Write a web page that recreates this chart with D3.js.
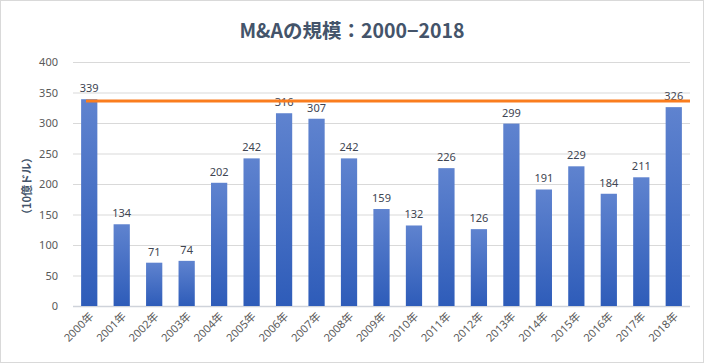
<!DOCTYPE html>
<html><head><meta charset="utf-8">
<script src="https://cdn.jsdelivr.net/npm/d3@7"></script>
<style>body{margin:0;background:#fff}svg{display:block}</style>
</head><body>
<script>
const categories = ["2000年","2001年","2002年","2003年","2004年","2005年","2006年","2007年","2008年","2009年","2010年","2011年","2012年","2013年","2014年","2015年","2016年","2017年","2018年"];
const values = [339,134,71,74,202,242,316,307,242,159,132,226,126,299,191,229,184,211,326];
const refLineValue = 336;
const yTicks = [0,50,100,150,200,250,300,350,400];
const titleText = "M&Aの規模：2000−2018";
const yTitle = "（10億ドル）";

const W = 704, H = 363;
const m = {left:73, right:14, top:62, bottom:57};
const svg = d3.select("body").append("svg").attr("width",W).attr("height",H);
svg.append("rect").attr("x",0.5).attr("y",0.5).attr("width",W-1).attr("height",H-1)
  .attr("fill","#fff").attr("stroke","#d9d9d9");

const defs = svg.append("defs");
const g1 = defs.append("linearGradient").attr("id","barGrad").attr("x1",0).attr("y1",0).attr("x2",0).attr("y2",1);
g1.append("stop").attr("offset","0%").attr("stop-color","#5f83cf");
g1.append("stop").attr("offset","100%").attr("stop-color","#2e5cb9");

const x = d3.scaleBand().domain(categories).range([m.left, W-m.right]).paddingInner(0.5).paddingOuter(0.25);
const y = d3.scaleLinear().domain([0,400]).range([H-m.bottom, m.top]);

const font = "'Noto Sans','Noto Sans CJK JP',sans-serif";

svg.append("text").attr("x",352).attr("y",38).attr("text-anchor","middle")
  .attr("font-family","'Noto Sans CJK JP','Noto Sans',sans-serif").attr("font-weight","bold")
  .attr("font-size",19.5).attr("fill","#44546a").text(titleText);

// grid
const gy = svg.append("g").attr("transform",`translate(${m.left},0)`)
  .call(d3.axisLeft(y).tickValues(yTicks).tickSize(-(W-m.left-m.right)).tickPadding(15));
gy.select(".domain").remove();
gy.selectAll(".tick line").attr("stroke",d=>d===0?"#cfd3da":"#d9d9d9").attr("stroke-width",d=>d===0?1.5:1);
gy.selectAll(".tick text").attr("font-family",font).attr("font-size",11).attr("fill","#595959");

svg.append("text").attr("transform",`translate(31,186) rotate(-90)`)
  .attr("text-anchor","middle").attr("font-family","'Noto Sans CJK JP',sans-serif")
  .attr("font-size",11).attr("font-weight","bold").attr("fill","#44546a").text(yTitle);

// bars
svg.append("g").selectAll("rect").data(values).join("rect")
  .attr("x",(d,i)=>x(categories[i])).attr("width",x.bandwidth())
  .attr("y",d=>y(d)).attr("height",d=>y(0)-y(d)).attr("fill","url(#barGrad)");

// labels
svg.append("g").selectAll("text").data(values).join("text")
  .attr("x",(d,i)=>x(categories[i])+x.bandwidth()/2).attr("y",d=>y(d)-7)
  .attr("text-anchor","middle").attr("font-family",font).attr("font-size",11)
  .attr("fill","#404552").text(d=>d);

// x axis labels
const gx = svg.append("g").attr("transform",`translate(0,${y(0)})`)
  .call(d3.axisBottom(x).tickSize(0).tickPadding(0));
gx.select(".domain").remove();
gx.selectAll(".tick text").attr("font-family",font).attr("font-size",11).attr("fill","#595959")
  .attr("text-anchor","end").attr("dy",0).attr("transform","translate(5,11) rotate(-45)");

// reference line
const lineData = [
  {x: x(categories[0]) + x.bandwidth()*0.3, v: refLineValue},
  {x: W - m.right, v: refLineValue}
];
svg.append("path").datum(lineData)
  .attr("d", d3.line().x(d=>d.x).y(d=>y(d.v)))
  .attr("stroke","#fa7d1e").attr("stroke-width",3).attr("fill","none");
</script>
</body></html>
